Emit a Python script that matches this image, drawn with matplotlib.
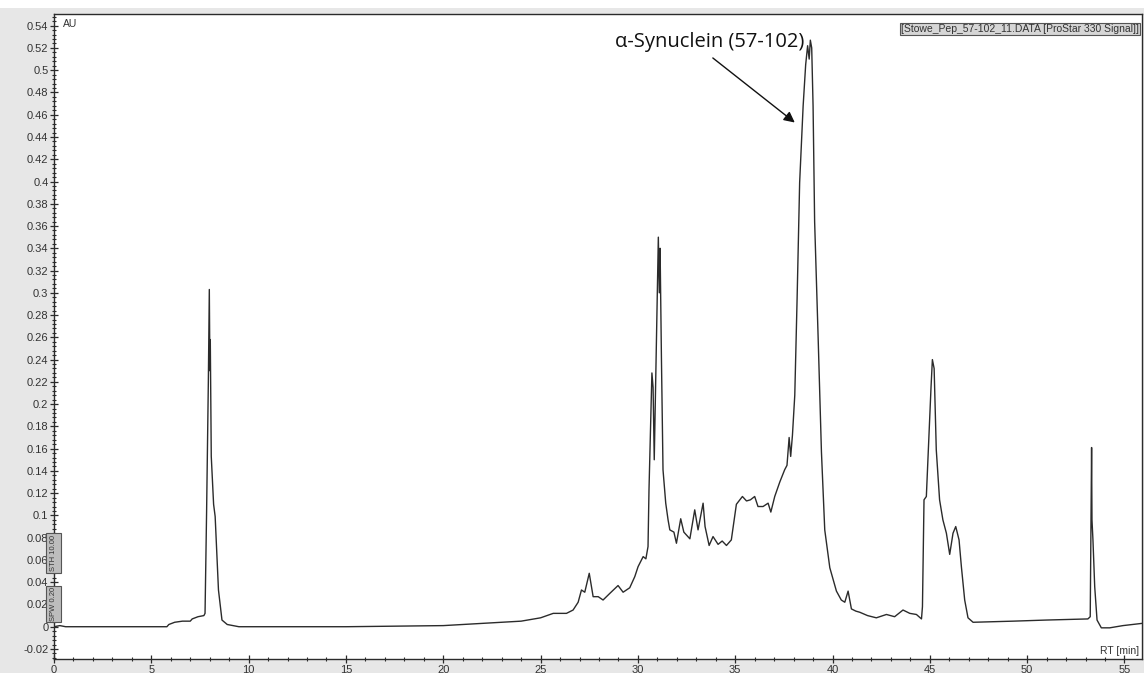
import matplotlib.pyplot as plt
from matplotlib.ticker import MultipleLocator, FuncFormatter
from matplotlib.patches import Rectangle

# Retention time (min) and detector signal (AU)
rt_min = [
    0.0, 0.3, 0.6, 1.0, 5.8, 5.9, 6.2, 6.6, 7.0, 7.1, 7.4, 7.7,
    7.76, 7.84, 7.93, 7.98, 8.01, 8.03, 8.08, 8.2, 8.28, 8.45, 8.63, 8.9, 9.5,
    15.0, 20.0, 22.0, 24.0, 25.0, 25.65, 26.0, 26.33, 26.67, 26.93, 27.1, 27.27,
    27.5, 27.7, 27.96, 28.21, 28.56, 28.98, 29.24, 29.58, 29.84, 30.01, 30.27,
    30.41, 30.52, 30.57, 30.65, 30.72, 30.78, 30.84, 30.92, 30.99, 31.05, 31.10,
    31.14, 31.21, 31.29, 31.43, 31.55, 31.64, 31.85, 31.98, 32.2, 32.36, 32.67,
    32.92, 33.09, 33.35, 33.45, 33.66, 33.86, 34.12, 34.33, 34.55, 34.8, 35.06,
    35.37, 35.58, 35.78, 36.0, 36.17, 36.43, 36.69, 36.83, 37.03, 37.29, 37.54,
    37.66, 37.77, 37.85, 37.94, 38.06, 38.18, 38.31, 38.49, 38.62, 38.72, 38.8,
    38.86, 38.93, 39.0, 39.08, 39.26, 39.43, 39.6, 39.86, 40.2, 40.45, 40.63,
    40.8, 40.97, 41.2, 41.4, 41.8, 42.25, 42.42, 42.77, 43.19, 43.62, 43.97,
    44.31, 44.57, 44.62, 44.7, 44.82, 44.96, 45.06, 45.13, 45.22, 45.33, 45.5,
    45.67, 45.85, 46.02, 46.19, 46.33, 46.5, 46.62, 46.79, 46.96, 47.22, 49.27,
    50.99, 53.12, 53.24, 53.31, 53.33, 53.38, 53.47, 53.59, 53.81, 54.24, 54.92,
    55.9,
]
signal_au = [
    0.000, 0.001, 0.000, 0.000, 0.000, 0.002, 0.004, 0.005, 0.005, 0.007, 0.009, 0.010,
    0.012, 0.103, 0.220, 0.303, 0.230, 0.258, 0.153, 0.110, 0.099, 0.033, 0.006, 0.002, 0.000,
    0.000, 0.001, 0.003, 0.005, 0.008, 0.012, 0.012, 0.012, 0.015, 0.022, 0.033, 0.031,
    0.048, 0.027, 0.027, 0.024, 0.030, 0.037, 0.031, 0.035, 0.045, 0.054, 0.063,
    0.061, 0.072, 0.123, 0.177, 0.228, 0.215, 0.150, 0.228, 0.300, 0.350, 0.300,
    0.340, 0.240, 0.141, 0.111, 0.096, 0.087, 0.085, 0.075, 0.097, 0.085, 0.079,
    0.105, 0.087, 0.111, 0.090, 0.073, 0.081, 0.074, 0.077, 0.073, 0.078, 0.110,
    0.117, 0.113, 0.114, 0.117, 0.108, 0.108, 0.111, 0.103, 0.117, 0.130, 0.141,
    0.145, 0.170, 0.153, 0.172, 0.208, 0.295, 0.399, 0.468, 0.505, 0.522, 0.510,
    0.527, 0.520, 0.468, 0.364, 0.260, 0.157, 0.087, 0.053, 0.032, 0.024, 0.022,
    0.032, 0.016, 0.014, 0.013, 0.010, 0.008, 0.009, 0.011, 0.009, 0.015, 0.012,
    0.011, 0.007, 0.018, 0.114, 0.117, 0.174, 0.215, 0.240, 0.232, 0.159, 0.114,
    0.096, 0.084, 0.065, 0.084, 0.090, 0.078, 0.054, 0.024, 0.008, 0.004, 0.005,
    0.006, 0.007, 0.009, 0.161, 0.096, 0.078, 0.036, 0.006, -0.001, -0.001, 0.001,
    0.003,
]

peak_label = 'α-Synuclein (57-102)'
arrow_tip = (38.06, 0.453)
arrow_tail = (33.85, 0.511)
label_pos = (33.7, 0.525)
run_title = '[Stowe_Pep_57-102_11.DATA [ProStar 330 Signal]]'

plt.rcParams['font.family'] = ['Liberation Sans', 'DejaVu Sans']
ink = '#2b2b2b'

fig = plt.figure(figsize=(11.44, 6.73), dpi=100, facecolor='#e7e7e7')
ax = fig.add_axes([54 / 1144, 1 - 659 / 673, 1088 / 1144, 645 / 673])
ax.set_facecolor('white')

# white strip along the very top of the window
fig.patches.append(Rectangle((0, 1 - 8 / 673), 1, 8 / 673, transform=fig.transFigure,
                             facecolor='white', edgecolor='none', zorder=-1))

ax.plot(rt_min, signal_au, color=ink, linewidth=1.0)

ax.set_xlim(0, 55.9)
ax.set_ylim(-0.029, 0.5505)

ax.xaxis.set_major_locator(MultipleLocator(5))
ax.xaxis.set_minor_locator(MultipleLocator(1))
ax.yaxis.set_major_locator(MultipleLocator(0.02))
ax.yaxis.set_minor_locator(MultipleLocator(0.004))
ax.yaxis.set_major_formatter(FuncFormatter(lambda v, p: '%g' % round(v, 3)))

ax.tick_params(axis='both', which='major', direction='inout', length=6, width=0.9,
               color=ink, labelsize=8, labelcolor='#333333', pad=1)
ax.tick_params(axis='both', which='minor', direction='inout', length=3, width=0.8, color=ink)
for s in ax.spines.values():
    s.set_color(ink)
    s.set_linewidth(1.0)

ax.text(0.008, 0.992, 'AU', transform=ax.transAxes, fontsize=7.5, color='#333333',
        ha='left', va='top')
ax.text(0.997, 0.004, 'RT [min]', transform=ax.transAxes, fontsize=7.5, color='#333333',
        ha='right', va='bottom')
ax.text(0.997, 0.985, run_title, transform=ax.transAxes, fontsize=7.5, color='#333333',
        ha='right', va='top',
        bbox=dict(boxstyle='square,pad=0.08', facecolor='#d6d6d6', edgecolor='#555555',
                  linewidth=0.8))

# small method tags sitting on the y axis
for y0, y1, tag in [(533, 573, 'STH 10.00'), (586, 622, 'SPW 0.20')]:
    fig.patches.append(Rectangle((46 / 1144, 1 - y1 / 673), 14.5 / 1144, (y1 - y0) / 673,
                                 transform=fig.transFigure, facecolor='#bdbdbd',
                                 edgecolor='#555555', linewidth=0.8, zorder=5))
    fig.text(53.5 / 1144, 1 - (y0 + y1) / 2 / 673, tag, rotation=90, fontsize=5.5,
             color='#333333', ha='center', va='center', zorder=6)

# peak label and its arrow
ax.text(*label_pos, peak_label, fontsize=14.5, family=['Open Sans', 'DejaVu Sans'],
        color='#111111', ha='center', va='center')
ax.annotate('', xy=arrow_tip, xytext=arrow_tail,
            arrowprops=dict(arrowstyle='-|>', color='#111111', lw=1.0,
                            mutation_scale=16, shrinkA=0, shrinkB=0))

fig.savefig('out.png', dpi=100, facecolor=fig.get_facecolor())
